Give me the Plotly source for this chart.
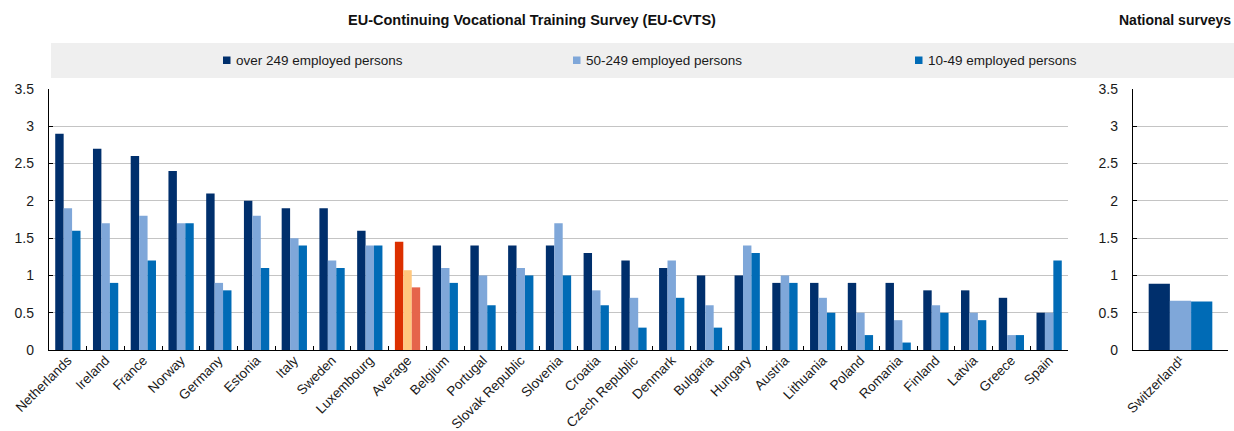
import plotly.graph_objects as go

# Countries covered by the EU-CVTS, ordered by the largest-enterprise value
countries = ["Netherlands", "Ireland", "France", "Norway", "Germany", "Estonia", "Italy",
             "Sweden", "Luxembourg", "Average", "Belgium", "Portugal", "Slovak Republic",
             "Slovenia", "Croatia", "Czech Republic", "Denmark", "Bulgaria", "Hungary",
             "Austria", "Lithuania", "Poland", "Romania", "Finland", "Latvia", "Greece", "Spain"]

over_249 = [2.9, 2.7, 2.6, 2.4, 2.1, 2.0, 1.9, 1.9, 1.6, 1.45, 1.4, 1.4, 1.4, 1.4, 1.3,
            1.2, 1.1, 1.0, 1.0, 0.9, 0.9, 0.9, 0.9, 0.8, 0.8, 0.7, 0.5]
from_50_249 = [1.9, 1.7, 1.8, 1.7, 0.9, 1.8, 1.5, 1.2, 1.4, 1.07, 1.1, 1.0, 1.1, 1.7, 0.8,
               0.7, 1.2, 0.6, 1.4, 1.0, 0.7, 0.5, 0.4, 0.6, 0.5, 0.2, 0.5]
from_10_49 = [1.6, 0.9, 1.2, 1.7, 0.8, 1.1, 1.4, 1.1, 1.4, 0.84, 0.9, 0.6, 1.0, 1.0, 0.6,
              0.3, 0.7, 0.3, 1.3, 0.9, 0.5, 0.2, 0.1, 0.5, 0.4, 0.2, 1.2]

# National survey panel
national = ["Switzerland¹"]
nat_over_249 = [0.89]
nat_50_249 = [0.66]
nat_10_49 = [0.65]

series_names = ["over 249 employed persons", "50-249 employed persons", "10-49 employed persons"]
y_ticks = [0, 0.5, 1, 1.5, 2, 2.5, 3, 3.5]
y_tick_text = ["0", "0.5", "1", "1.5", "2", "2.5", "3", "3.5"]

NAVY, LIGHT, MID = "#002F6C", "#7FA7D9", "#006BB6"
AVG_COLORS = ["#DC3000", "#FFC77D", "#E5644B"]
base_colors = [NAVY, LIGHT, MID]

W, H = 1234, 431
FONT = "Liberation Sans, Arial, sans-serif"


def px_x(p):
    return p / W


def px_y(p):
    return (H - p) / H


fig = go.Figure()

left_series = [over_249, from_50_249, from_10_49]
for i, (name, vals) in enumerate(zip(series_names, left_series)):
    colors = [AVG_COLORS[i] if c == "Average" else base_colors[i] for c in countries]
    fig.add_trace(go.Bar(x=countries, y=vals, name=name, marker=dict(color=colors, line_width=0),
                         xaxis="x", yaxis="y", showlegend=False))

right_series = [nat_over_249, nat_50_249, nat_10_49]
for i, (name, vals) in enumerate(zip(series_names, right_series)):
    fig.add_trace(go.Bar(x=national, y=vals, name=name, marker=dict(color=base_colors[i], line_width=0),
                         xaxis="x2", yaxis="y2", showlegend=False))

y_dom = [px_y(350), px_y(89)]
common_y = dict(range=[0, 3.5], tickvals=y_ticks, ticktext=y_tick_text, showgrid=True,
                gridcolor="#C4C4C4", gridwidth=1, showline=True, linecolor="black", linewidth=1.3,
                ticks="inside", ticklen=4, tickcolor="black", zeroline=False,
                tickfont=dict(family=FONT, size=14, color="#1A1A1A"), ticklabelstandoff=11,
                domain=y_dom, automargin=False)
common_x = dict(type="category", showline=True, linecolor="black", linewidth=1.3, showgrid=False,
                ticks="inside", ticklen=4, tickcolor="black", tickson="boundaries", tickangle=-45,
                tickfont=dict(family=FONT, size=13.5, color="#1A1A1A"), ticklabelstandoff=-4,
                automargin=False)

fig.update_layout(
    width=W, height=H,
    margin=dict(l=0, r=0, t=0, b=0),
    paper_bgcolor="white", plot_bgcolor="white",
    barmode="group", bargap=0.33, bargroupgap=0,
    xaxis=dict(**common_x, domain=[px_x(49), px_x(1068)], anchor="y"),
    yaxis=dict(**common_y, anchor="x"),
    xaxis2=dict(**common_x, domain=[px_x(1133), px_x(1228)], anchor="y2"),
    yaxis2=dict(**common_y, anchor="x2"),
)

shapes = [dict(type="rect", xref="paper", yref="paper", x0=px_x(51), x1=1.0,
               y0=px_y(78), y1=px_y(43), fillcolor="#EFEFEF", line_width=0, layer="below")]
annotations = []

# Legend band drawn as swatches and labels
legend_pos = [223, 573, 915]
for i, name in enumerate(series_names):
    x0 = legend_pos[i]
    shapes.append(dict(type="rect", xref="paper", yref="paper", x0=px_x(x0), x1=px_x(x0 + 7.5),
                       y0=px_y(64), y1=px_y(56.5), fillcolor=base_colors[i], line_width=0))
    annotations.append(dict(text=name, xref="paper", yref="paper", x=px_x(x0 + 11), y=px_y(60),
                            xanchor="left", yanchor="middle", showarrow=False,
                            font=dict(family=FONT, size=13.5, color="#1A1A1A")))

annotations.append(dict(text="<b>EU-Continuing Vocational Training Survey (EU-CVTS)</b>",
                        xref="paper", yref="paper", x=px_x(532), y=px_y(20),
                        xanchor="center", yanchor="middle", showarrow=False,
                        font=dict(family=FONT, size=14.5, color="#111111")))
annotations.append(dict(text="<b>National surveys</b>",
                        xref="paper", yref="paper", x=px_x(1175), y=px_y(20),
                        xanchor="center", yanchor="middle", showarrow=False,
                        font=dict(family=FONT, size=14, color="#111111")))

fig.update_layout(shapes=shapes, annotations=annotations)

fig.write_html("out.html")
